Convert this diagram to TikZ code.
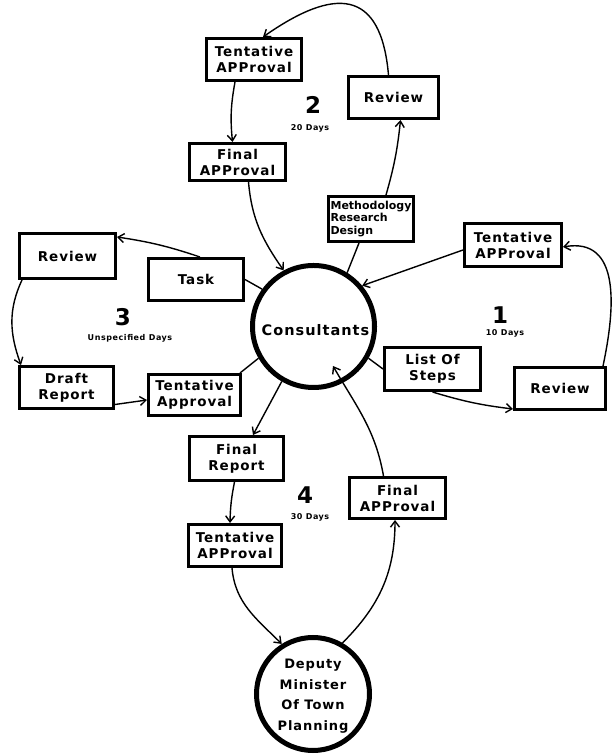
\documentclass[tikz,border=0pt]{standalone}
\usepackage{fontspec}
\usetikzlibrary{arrows.meta,calc}
\newfontfamily\bx[LetterSpace=7]{DejaVu Sans}
\newfontfamily\bxs[LetterSpace=0]{DejaVu Sans}
\tikzset{
  box/.style={draw, line width=3bp, inner sep=0pt, align=center,
    font={\bx\bfseries\fontsize{13.5bp}{16bp}\selectfont}},
  hub/.style={draw, circle, line width=5bp, inner sep=0pt, align=center},
  arr/.style={-{Straight Barb[length=6bp,width=9bp]}, line width=1.4bp},
  lnk/.style={line width=1.4bp},
  num/.style={font={\bxs\bfseries\fontsize{23bp}{23bp}\selectfont}},
  days/.style={font={\bx\bfseries\fontsize{8bp}{9bp}\selectfont}}
}
\begin{document}
\begin{tikzpicture}[x=1bp,y=1bp]
\useasboundingbox (0,0) rectangle (612,756);
% hubs
\node[hub, minimum size=122bp] (cons) at (313.5,429.5) {};
\node[font={\bx\bfseries\fontsize{14.5bp}{16bp}\selectfont}] (constxt) at (315.5,426) {Consultants};
\node[hub, minimum size=113bp] (dep) at (313,62) {};
\node[align=center, font={\bx\bfseries\fontsize{13bp}{20.5bp}\selectfont}] (deptxt) at (313,60) {Deputy\\Minister\\Of Town\\Planning};
% cycle 2
\node[box, minimum width=95bp, minimum height=42bp] (ta2) at (254,696.5) {Tentative\\APProval};
\node[box, minimum width=90bp, minimum height=42bp] (rv2) at (393.5,658.5) {Review};
\node[box, minimum width=96bp, minimum height=37bp] (fa2) at (237.5,594) {Final\\APProval};
\node[box, minimum width=85bp, minimum height=45bp, align=left,
  font={\bxs\bfseries\fontsize{11bp}{12.5bp}\selectfont}] (meth) at (371,537) {Methodology\\Research\\Design};
% cycle 1
\node[box, minimum width=97bp, minimum height=43bp] (ta1) at (513,511) {Tentative\\APProval};
\node[box, minimum width=96bp, minimum height=43bp] (lst) at (432.5,387) {List Of\\Steps};
\node[box, minimum width=91bp, minimum height=42bp] (rv1) at (560,367.5) {Review};
% cycle 3
\node[box, minimum width=96bp, minimum height=45bp] (rv3) at (67.5,500) {Review};
\node[box, minimum width=95bp, minimum height=42bp] (task) at (196,476.5) {Task};
\node[box, minimum width=94bp, minimum height=42bp] (dr) at (66.5,368.5) {Draft\\Report};
\node[box, minimum width=92bp, minimum height=41bp] (ta3) at (194.5,361) {Tentative\\Approval};
% cycle 4
\node[box, minimum width=94bp, minimum height=44bp] (fr) at (236.5,297.5) {Final\\Report};
\node[box, minimum width=93bp, minimum height=42bp] (ta4) at (235,210.5) {Tentative\\APProval};
\node[box, minimum width=96bp, minimum height=41bp] (fa4) at (397.5,258) {Final\\APProval};
% labels
\node[num] (n2) at (313,651) {2};
\node[days] (d2) at (310,628) {20 Days};
\node[num] (n1) at (500,441) {1};
\node[days] (d1) at (505,423) {10 Days};
\node[num] (n3) at (123,439) {3};
\node[days] (d3) at (130,418) {Unspecified Days};
\node[num] (n4) at (305,261) {4};
\node[days] (d4) at (310,239) {30 Days};
% connectors cycle 2
\draw[lnk] (cons.58) -- ([xshift=-12bp]meth.south);
\draw[arr] ([xshift=15bp]meth.north) to[bend right=5] ([xshift=7bp]rv2.south);
\draw[arr] ([xshift=-5bp]rv2.north) to[out=95,in=35,looseness=1.7] ([xshift=9bp]ta2.north);
\draw[arr] ([xshift=-19bp]ta2.south) to[bend right=8] ([xshift=-5bp]fa2.north);
\draw[arr] ([xshift=11bp]fa2.south) to[out=-85,in=125] (cons.118);
% cycle 1
\draw[arr] ([yshift=-5bp]ta1.west) -- (cons.40);
\draw[lnk] (cons.-30) -- (lst.west);
\draw[arr] (lst.south) to[bend right=5] ([yshift=2bp]rv1.south west);
\draw[arr] ([xshift=-4bp]rv1.north east) to[out=78,in=10,looseness=1.2] ([yshift=-2bp]ta1.east);
% cycle 3
\draw[lnk] (cons.144) -- (task.east);
\draw[arr] ([xshift=4bp]task.north) to[bend right=5] ([yshift=-5bp]rv3.north east);
\draw[arr] ([xshift=4bp]rv3.south west) to[out=-115,in=110] ([xshift=3bp]dr.north west);
\draw[arr] ([yshift=-17bp]dr.east) -- ([yshift=-5bp]ta3.west);
\draw[lnk] ([xshift=-2bp]ta3.north east) -- (cons.210);
% cycle 4
\coordinate (c4) at ($(cons.center)+(19.5,-39.5)$);
\draw[arr] (cons.240) -- ([xshift=16.5bp]fr.north);
\draw[arr] ([xshift=-2bp]fr.south) to[bend right=5] ([xshift=-5bp]ta4.north);
\draw[arr] ([xshift=-3bp]ta4.south) to[out=-85,in=135] (dep.122);
\draw[arr] (dep.60) to[out=45,in=-90] ([xshift=-2.5bp]fa4.south);
\draw[arr] ([xshift=-14bp]fa4.north) to[out=100,in=-60] (c4);
\end{tikzpicture}
\end{document}
